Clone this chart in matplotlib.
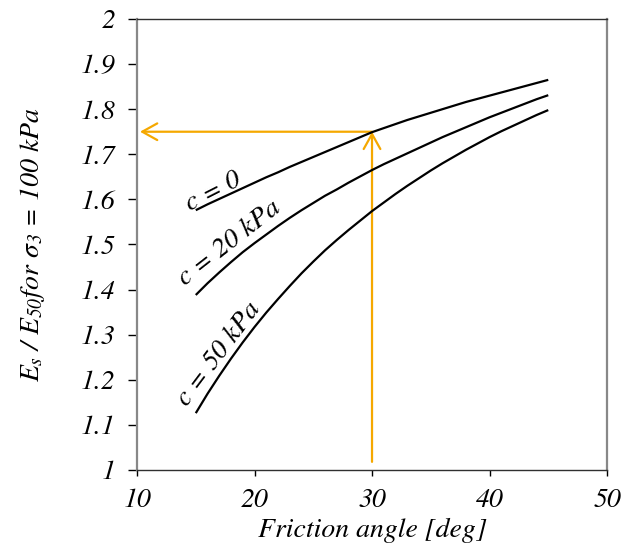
import matplotlib
matplotlib.use("Agg")
import matplotlib.pyplot as plt
from matplotlib.patches import FancyArrowPatch

plt.rcParams["font.family"] = "STIXGeneral"
plt.rcParams["font.style"] = "italic"
plt.rcParams["mathtext.fontset"] = "stix"

# friction angle [deg]
phi = list(range(15, 46))
# Es/E50 ratio for sigma3 = 100 kPa, one curve per cohesion
ratio_c0 = [1.576, 1.589, 1.601, 1.613, 1.625, 1.637, 1.649, 1.660, 1.672, 1.683, 1.694,
            1.705, 1.716, 1.727, 1.738, 1.749, 1.758, 1.767, 1.776, 1.784, 1.792,
            1.800, 1.808, 1.816, 1.823, 1.830, 1.837, 1.844, 1.851, 1.858, 1.865]
ratio_c20 = [1.388, 1.414, 1.438, 1.461, 1.483, 1.503, 1.522, 1.541, 1.559, 1.576, 1.592,
             1.608, 1.622, 1.637, 1.651, 1.665, 1.678, 1.690, 1.702, 1.714, 1.726,
             1.738, 1.749, 1.760, 1.771, 1.782, 1.792, 1.802, 1.812, 1.822, 1.831]
ratio_c50 = [1.126, 1.169, 1.209, 1.247, 1.283, 1.317, 1.349, 1.379, 1.408, 1.436, 1.462,
             1.487, 1.510, 1.532, 1.553, 1.574, 1.593, 1.612, 1.630, 1.647, 1.664,
             1.680, 1.695, 1.710, 1.724, 1.738, 1.751, 1.763, 1.775, 1.787, 1.798]
curve_labels = ["c = 0", "c = 20 kPa", "c = 50 kPa"]

PHI_READ, RATIO_READ = 30, 1.75
ORANGE = "#F5A800"

fig = plt.figure(figsize=(6.22, 5.5), dpi=100)
ax = fig.add_axes([0.2203, 0.1455, 0.7556, 0.82])

for y in (ratio_c0, ratio_c20, ratio_c50):
    ax.plot(phi, y, color="black", lw=1.6, solid_capstyle="butt")

# read-off arrows: up from phi = 30 to the c = 0 curve, then across to the axis
head = "->,head_length=0.9,head_width=0.5"
ax.add_patch(FancyArrowPatch((PHI_READ, 1.018), (PHI_READ, RATIO_READ), arrowstyle=head,
                             mutation_scale=12, color=ORANGE, lw=1.6, shrinkA=0, shrinkB=0))
ax.add_patch(FancyArrowPatch((PHI_READ, RATIO_READ), (10.25, RATIO_READ), arrowstyle=head,
                             mutation_scale=12, color=ORANGE, lw=1.6, shrinkA=0, shrinkB=0))

# curve labels (x, y, angle)
for txt, (x, y, rot) in zip(curve_labels, [(16.5, 1.617, 27), (17.9, 1.502, 38), (17.0, 1.258, 53)]):
    ax.text(x, y, txt, rotation=rot, fontsize=20, ha="center", va="center", rotation_mode="anchor")

ax.set_xlim(10, 50)
ax.set_ylim(1, 2)
ax.set_xticks([10, 20, 30, 40, 50])
ax.set_yticks([1, 1.1, 1.2, 1.3, 1.4, 1.5, 1.6, 1.7, 1.8, 1.9, 2])
ax.set_yticklabels(["1", "1.1", "1.2", "1.3", "1.4", "1.5", "1.6", "1.7", "1.8", "1.9", "2"])
ax.tick_params(axis="y", direction="out", length=6.5, width=1, pad=9, labelsize=20)
ax.tick_params(axis="x", direction="out", length=4.5, width=1, pad=9, labelsize=20)

for side in ("left", "right"):
    ax.spines[side].set_color("#888888")
    ax.spines[side].set_linewidth(1.6)
for side in ("top", "bottom"):
    ax.spines[side].set_color("#303030")
    ax.spines[side].set_linewidth(1.0)

ax.set_xlabel("Friction angle [deg]", fontsize=20, labelpad=3)
ax.set_ylabel(r"$E_s$ / $E_{50}$for $\sigma_3$ = 100 kPa", fontsize=20, labelpad=24)

fig.savefig("out.png", dpi=100)
